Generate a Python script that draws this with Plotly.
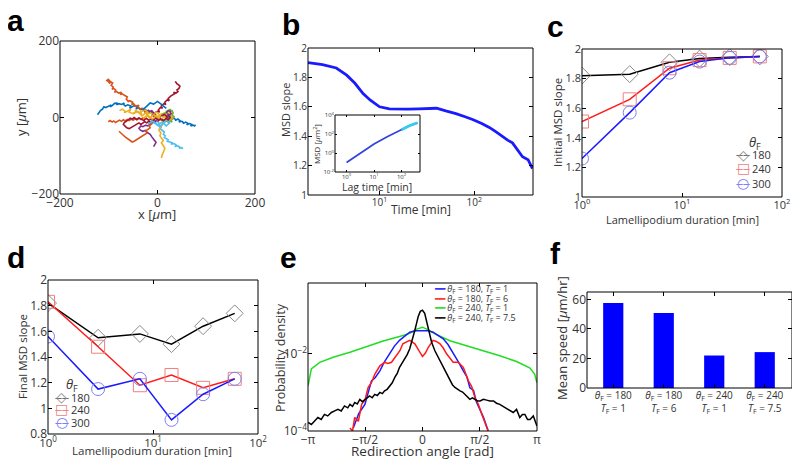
import plotly.graph_objects as go

FONT = "Open Sans"
TXT = "#333333"

# ---- panel a: cell trajectories [um] ----
traj_x = [
    [-8, -12, -10, -16, -21, -19, -26, -31, -29, -35, -40, -44, -42, -48, -53, -57, -55, -61, -66, -70,
     -68, -74, -79, -84, -82, -88, -93, -97, -95, -101, -106, -110, -113, -117, -121, -123],
    [-18, -22, -27, -25, -32, -36, -40, -38, -45, -49, -53, -51, -57, -60, -64, -62, -68, -72, -76, -74,
     -80, -84, -88, -86, -90, -93, -91, -95, -92, -97, -101, -104, -100, -97],
    [-12, -8, -4, -6, 0, 4, 2, 6, 10, 8, 13, 17, 15, 20, 24, 22, 27, 31, 35, 33,
     38, 42, 40, 44, 46, 43, 40, 38, 36],
    [15, 18, 22, 20, 26, 30, 28, 34, 38, 36, 42, 46, 44, 50, 54, 52, 58, 62, 60, 66, 70, 68, 73, 76, 78],
    [-15, -10, -5, -8, 0, 4, 2, 8, 6, 10, 14, 12, 16, 14, 18, 22, 20, 26, 30, 28, 34, 38, 36, 42, 46, 44, 50, 52],
    [-78, -72, -66, -68, -60, -55, -58, -50, -44, -46, -38, -32, -35, -26, -20, -23, -14, -8, -10, -2,
     4, 2, 8, 12, 9, 5, 3, 7, 5, 9, 12, 8, 11, 15, 13, 10, 8],
    [-20, -16, -12, -8, -10, -5, 0, -3, -6, -12, -15, -20, -24, -30, -34, -38, -35, -30, -25, -20,
     -15, -12, -8, -6, -3, -5, -8],
    [-101, -97, -93, -90, -86, -82, -78, -74, -70, -66, -62, -58, -54, -50, -46, -42, -38, -34, -30, -26],
    [-10, -13, -17, -15, -20, -24, -22, -28, -32, -36, -40, -44, -48, -52, -56, -59, -62, -65, -68, -71,
     -74, -77, -79],
    [5, 9, 13, 11, 16, 20, 18, 23, 27, 25, 30, 32, 30, 34, 31, 28, 30, 26, 22, 24, 19, 15, 17, 12, 10],
    [10, 6, 2, -3, -8, -13, -18, -23, -28, -33, -38, -43, -48, -52, -56, -60, -64, -68, -70, -67,
     -63, -58, -54, -50, -46, -42, -38, -34, -30, -26, -22, -18, -14, -10, -6],
    [-50, -40, -32, -24, -16, -8, 0, 8, 16, 24, 30, 22, 14, 6, -2, -10, -20, -30],
    [-20, -10, 0, 10, 18, 25, 20, 12, 4, -4],
    [-30, -22, -15, -8, 0, 6, 12, 18],
    [0, 6, 12, 18, 22, 26, 24, 20, 14, 8],
    [20, 24, 28, 26, 22, 18],
]
traj_y = [
    [8, 12, 16, 14, 10, 17, 20, 18, 24, 21, 26, 22, 28, 31, 27, 24, 30, 33, 30, 35,
     38, 34, 36, 33, 38, 37, 31, 28, 33, 30, 26, 28, 22, 18, 12, 7],
    [12, 16, 14, 20, 24, 22, 28, 32, 30, 36, 34, 40, 44, 42, 48, 54, 58, 62, 60, 66,
     64, 68, 66, 72, 76, 74, 80, 84, 90, 94, 100, 97, 93, 88],
    [4, 8, 6, 12, 16, 14, 20, 26, 24, 30, 36, 34, 40, 46, 44, 50, 56, 58, 62, 66,
     64, 68, 72, 76, 82, 86, 88, 92, 94],
    [6, 2, 4, 0, -2, 2, -4, -2, -6, -8, -4, -8, -12, -10, -14, -16, -12, -15, -19, -16, -18, -22, -20, -22, -19],
    [-5, -9, -6, -12, -10, -16, -20, -24, -30, -34, -38, -44, -48, -52, -56, -58, -62, -64, -66, -70,
     -68, -72, -76, -74, -78, -80, -79, -82],
    [18, 22, 16, 12, 18, 22, 14, 10, 16, 20, 12, 8, 16, 20, 14, 8, 12, 4, 10, 14,
     8, 0, -6, -12, -20, -26, -34, -40, -48, -54, -60, -66, -72, -80, -88, -96, -106],
    [20, 16, 18, 12, 6, 2, -4, -8, -14, -12, -18, -22, -20, -24, -22, -28, -33, -36, -34, -40,
     -44, -50, -55, -60, -65, -70, -76],
    [-11, -8, -12, -9, -13, -10, -7, -10, -6, -9, -5, -8, -4, -7, -3, -6, -2, -5, -1, -3],
    [-15, -19, -22, -27, -31, -35, -41, -46, -50, -54, -57, -60, -62, -64, -61, -58, -55, -52, -49, -46,
     -43, -40, -36],
    [2, 6, 4, 10, 12, 8, 16, 20, 22, 16, 18, 12, 6, 2, -4, -8, -12, -10, -6, -14, -10, -6, -12, -8, -4],
    [-6, -2, -5, -1, -6, -3, -7, -2, -8, -4, -1, -5, 0, -4, -2, -6, -9, -13, -18, -23,
     -27, -29, -26, -23, -20, -17, -14, -18, -15, -11, -14, -10, -13, -9, -6],
    [10, 16, 4, 12, -2, 8, 0, 10, 4, 12, -2, -8, 2, -6, 6, -4, 6, -2],
    [-18, -10, -20, -12, -22, -14, -4, -16, -24, -14],
    [20, 30, 38, 35, 42, 36, 30, 24],
    [-10, -4, -8, -2, -6, 0, 6, 2, 8, 4],
    [10, 6, 10, 16, 18, 12],
]
traj_colors = ["#0072BD", "#D95319", "#A2142F", "#0072BD", "#4DBEEE", "#EDB120", "#7E2F8E",
               "#D95319", "#D95319", "#77AC30", "#A2142F", "#EDB120", "#4DBEEE", "#0072BD",
               "#A2142F", "#7E2F8E"]

# ---- panel b: MSD slope vs time ----
time_b = [1.76, 2.5, 3.5, 4.5, 5.5, 6.7, 8.0, 10, 12.7, 16, 20, 26, 32, 40, 50, 64, 80, 96,
          120, 144, 170, 199, 225, 253, 290, 323, 370, 411]
slope_b = [1.90, 1.887, 1.864, 1.815, 1.76, 1.69, 1.645, 1.60, 1.586, 1.584, 1.584, 1.586, 1.588,
           1.59, 1.572, 1.554, 1.532, 1.514, 1.486, 1.46, 1.43, 1.396, 1.373, 1.355, 1.305, 1.26,
           1.24, 1.18]
lag_inset = [1, 3, 10, 30, 100, 200, 380]
msd_inset = [0.1, 0.85, 9, 52, 280, 780, 1500]

# ---- panels c, d: slopes vs lamellipodium duration ----
duration = [1, 3, 7.5, 15, 30, 60]
init_180 = [1.82, 1.83, 1.91, 1.935, 1.945, 1.95]
init_240 = [1.51, 1.66, 1.87, 1.925, 1.94, 1.95]
init_300 = [1.26, 1.57, 1.84, 1.915, 1.94, 1.95]
final_180 = [1.82, 1.55, 1.58, 1.50, 1.64, 1.74]
final_240 = [1.83, 1.48, 1.18, 1.26, 1.16, 1.23]
final_300 = [1.56, 1.15, 1.23, 0.91, 1.11, 1.23]

# ---- panel e: redirection angle distributions (log10 density) ----
ang_blue = [-1.90, -1.75, -1.58, -1.48, -1.40, -1.30, -1.17, -1.04, -0.90, -0.77, -0.63, -0.49, -0.35,
            -0.18, 0, 0.15, 0.29, 0.43, 0.57, 0.70, 0.84, 0.98, 1.12, 1.22, 1.30, 1.40, 1.48, 1.58,
            1.67, 1.80]
log_blue = [-3.92, -3.55, -3.31, -3.0, -2.70, -2.62, -2.44, -2.20, -2.0, -1.80, -1.65, -1.55, -1.44,
            -1.40, -1.39, -1.40, -1.44, -1.52, -1.61, -1.76, -1.97, -2.20, -2.44, -2.60, -2.88,
            -2.95, -3.25, -3.45, -3.64, -3.99]
ang_red = [-1.99, -1.92, -1.86, -1.76, -1.67, -1.58, -1.49, -1.40, -1.31, -1.17, -1.04, -0.95, -0.85,
           -0.71, -0.62, -0.54, -0.45, -0.35, -0.21, -0.10, 0, 0.08, 0.16, 0.29, 0.38, 0.48, 0.57,
           0.66, 0.75, 0.84, 0.98, 1.12, 1.26, 1.35, 1.44, 1.53, 1.63, 1.72, 1.80]
log_red = [-3.92, -4.0, -3.65, -3.75, -3.31, -3.20, -2.87, -2.75, -2.53, -2.31, -2.22, -2.25, -2.22,
           -2.05, -1.92, -1.74, -1.70, -1.65, -1.74, -1.90, -2.07, -1.98, -1.83, -1.65, -1.68, -1.74,
           -1.85, -2.0, -2.12, -2.22, -2.22, -2.35, -2.70, -2.85, -3.14, -3.30, -3.57, -3.83, -4.0]
ang_green = [-3.14, -3.05, -2.82, -2.45, -1.99, -1.53, -1.08, -0.63, -0.35, -0.16, 0, 0.16, 0.38,
             0.75, 1.21, 1.67, 2.12, 2.58, 2.95, 3.08, 3.14]
log_green = [-2.83, -2.39, -2.22, -2.09, -1.96, -1.81, -1.67, -1.55, -1.47, -1.36, -1.31, -1.38,
             -1.50, -1.66, -1.79, -1.92, -2.05, -2.20, -2.37, -2.53, -2.75]
ang_black = [-3.14, -3.05, -2.96, -2.87, -2.78, -2.69, -2.60, -2.50, -2.41, -2.32, -2.23, -2.14, -2.05,
             -1.99, -1.92, -1.86, -1.79, -1.72, -1.65, -1.58, -1.51, -1.45, -1.38, -1.31, -1.24, -1.17,
             -1.10, -1.04, -0.97, -0.90, -0.83, -0.76, -0.69, -0.63, -0.56, -0.49, -0.42, -0.35,
             -0.28, -0.21, -0.16, -0.12, -0.06, 0, 0.06, 0.11, 0.16, 0.20, 0.25, 0.34, 0.41, 0.48,
             0.55, 0.62, 0.69, 0.75, 0.82, 0.89, 0.96, 1.03, 1.10, 1.16, 1.23, 1.30, 1.37, 1.44,
             1.51, 1.58, 1.67, 1.76, 1.85, 1.95, 2.03, 2.12, 2.21, 2.31, 2.40, 2.49, 2.58, 2.67,
             2.74, 2.81, 2.88, 2.95, 3.04, 3.10, 3.14]
log_black = [-3.78, -3.83, -3.74, -3.65, -3.70, -3.57, -3.61, -3.52, -3.48, -3.44, -3.48, -3.35,
             -3.40, -3.31, -3.36, -3.26, -3.30, -3.18, -3.24, -3.18, -3.12, -3.09, -3.14, -3.05,
             -3.08, -3.0, -3.03, -2.96, -2.92, -2.83, -2.75, -2.61, -2.50, -2.35, -2.25, -2.14,
             -2.02, -1.87, -1.65, -1.39, -1.20, -1.04, -0.90, -0.87, -0.95, -1.15, -1.35, -1.52,
             -1.70, -1.92, -2.05, -2.18, -2.30, -2.44, -2.58, -2.70, -2.80, -2.87, -2.92, -2.96,
             -2.99, -3.05, -3.10, -3.18, -3.14, -3.18, -3.22, -3.22, -3.18, -3.20, -3.22, -3.22,
             -3.28, -3.31, -3.36, -3.40, -3.46, -3.52, -3.44, -3.65, -3.57, -3.57, -3.70, -3.70,
             -3.61, -3.78, -3.87]

# ---- panel f: mean speed ----
speed_labels = ["<i>θ</i><sub>F</sub> = 180<br><i>T</i><sub>F</sub> = 1",
                "<i>θ</i><sub>F</sub> = 180<br><i>T</i><sub>F</sub> = 6",
                "<i>θ</i><sub>F</sub> = 240<br><i>T</i><sub>F</sub> = 1",
                "<i>θ</i><sub>F</sub> = 240<br><i>T</i><sub>F</sub> = 7.5"]
speed_vals = [57.5, 50.7, 22.0, 24.3]

# page body has an 8px margin, so the figure is 792x462 and window pixels are shifted by 8
W, H, OFF = 792, 462, 8


def fx(x):
    return (x - OFF) / W


def fy(y):
    return 1 - (y - OFF) / H


def px(x0, x1):
    return [fx(x0), fx(x1)]


def py(top, bottom):
    return [fy(bottom), fy(top)]


def ax(size=11, **kw):
    # box is drawn with a frame shape; axes only carry ticks (mirrored like MATLAB)
    d = dict(showline=False, mirror="ticks", ticks="inside",
             ticklen=4, tickcolor="black", showgrid=False, zeroline=False, automargin=False,
             tickfont=dict(size=size, color=TXT))
    d.update(kw)
    return d


fig = go.Figure()

# a
for xs, ys, c in zip(traj_x, traj_y, traj_colors):
    fig.add_trace(go.Scatter(x=xs, y=ys, mode="lines", line=dict(color=c, width=1.6),
                             xaxis="x", yaxis="y", showlegend=False))

# b
fig.add_trace(go.Scatter(x=time_b, y=slope_b, mode="lines", line=dict(color="#1a1aff", width=2.8),
                         xaxis="x2", yaxis="y2", showlegend=False))
fig.add_trace(go.Scatter(x=lag_inset, y=msd_inset, mode="lines", line=dict(color="#3344dd", width=1.8),
                         xaxis="x3", yaxis="y3", showlegend=False))
fig.add_trace(go.Scatter(x=lag_inset[4:], y=msd_inset[4:], mode="lines",
                         line=dict(color="#33ccee", width=2.6),
                         xaxis="x3", yaxis="y3", showlegend=False))

# c and d
series = [("x4", "y4", [init_180, init_240, init_300]), ("x5", "y5", [final_180, final_240, final_300])]
styles = [("black", "#8a8a8a", "diamond-open"), ("#ff1a1a", "#f08080", "square-open"),
          ("#1a1aff", "#8080f0", "circle-open")]
for xa, ya, sets in series:
    for vals, (lc, mc, sym) in zip(sets, styles):
        fig.add_trace(go.Scatter(x=duration, y=vals, mode="lines+markers",
                                 line=dict(color=lc, width=1.5),
                                 marker=dict(symbol=sym, size=13, color=mc, line=dict(width=1, color=mc)),
                                 xaxis=xa, yaxis=ya, showlegend=False))

# e
for a, l, c in [(ang_green, log_green, "#22dd22"), (ang_blue, log_blue, "#1a1aff"),
                (ang_red, log_red, "#ff1a1a"), (ang_black, log_black, "black")]:
    fig.add_trace(go.Scatter(x=a, y=[10 ** v for v in l], mode="lines", line=dict(color=c, width=1.5),
                             xaxis="x6", yaxis="y6", showlegend=False))

# f
fig.add_trace(go.Bar(x=[1, 2, 3, 4], y=speed_vals, width=0.4, marker_color="#0000ff",
                     marker_line_width=0, xaxis="x7", yaxis="y7", showlegend=False))

pi = 3.141592653589793
mu = "<i>μ</i>"
sup = ["10<sup>0</sup>", "10<sup>1</sup>", "10<sup>2</sup>"]
fig.update_layout(
    width=W, height=H, margin=dict(l=0, r=0, t=0, b=0, autoexpand=False),
    paper_bgcolor="white", plot_bgcolor="white",
    font=dict(family=FONT, color=TXT),
    xaxis=ax(12, domain=px(60, 255), anchor="y", range=[-200, 200], tickvals=[-200, 0, 200]),
    yaxis=ax(12, domain=py(41, 194), anchor="x", range=[-200, 200], tickvals=[-200, 0, 200]),
    xaxis2=ax(10, domain=px(308, 533), anchor="y2", type="log", range=[0.245, 2.62],
              tickvals=[10, 100], ticktext=sup[1:]),
    yaxis2=ax(10, domain=py(48, 195), anchor="x2", range=[1, 2], dtick=0.2),
    xaxis3=ax(6, domain=px(335, 420), anchor="y3", type="log", range=[-0.42, 2.67], ticklen=2,
              tickvals=[1, 10, 100], ticktext=sup),
    yaxis3=ax(6, domain=py(115, 172), anchor="x3", type="log", range=[-2, 4], ticklen=2,
              tickvals=[0.01, 1, 100, 10000],
              ticktext=["10<sup>-2</sup>", "10<sup>0</sup>", "10<sup>2</sup>", "10<sup>4</sup>"]),
    xaxis4=ax(11, domain=px(582, 782), anchor="y4", type="log", range=[0, 2],
              tickvals=[1, 10, 100], ticktext=sup),
    yaxis4=ax(11, domain=py(49, 197), anchor="x4", range=[1, 2], dtick=0.2),
    xaxis5=ax(11.5, domain=px(48, 258), anchor="y5", type="log", range=[0, 2],
              tickvals=[1, 10, 100], ticktext=sup),
    yaxis5=ax(12, domain=py(280, 434), anchor="x5", range=[0.8, 2], dtick=0.2),
    xaxis6=ax(12, domain=px(308, 537), anchor="y6", range=[-pi, pi],
              tickvals=[-pi, -pi / 2, 0, pi / 2, pi], ticktext=["−π", "−π/2", "0", "π/2", "π"]),
    yaxis6=ax(12, domain=py(283, 431), anchor="x6", type="log", range=[-4, -0.165],
              tickvals=[1e-4, 1e-2], ticktext=["10<sup>−4</sup>", "10<sup>−2</sup>"]),
    xaxis7=ax(10, domain=px(587, 792), anchor="y7", range=[0.48, 4.54], tickvals=[1, 2, 3, 4],
              ticktext=speed_labels),
    yaxis7=ax(12, domain=py(292, 388), anchor="x7", range=[0, 65], tickvals=[0, 20, 40, 60]),
)

# axes boxes
shapes = []
for xid, yid in [("x", "y"), ("x2", "y2"), ("x3", "y3"), ("x4", "y4"), ("x5", "y5"),
                 ("x6", "y6"), ("x7", "y7")]:
    shapes.append(dict(type="rect", xref=xid + " domain", yref=yid + " domain", x0=0, x1=1, y0=0, y1=1,
                       line=dict(color="black", width=1), fillcolor="rgba(0,0,0,0)", layer="above"))
fig.update_layout(shapes=shapes)

ann = []


def label(text, x, y, size, angle=0):
    ann.append(dict(text=text, x=fx(x), y=fy(y), xref="paper", yref="paper",
                    xanchor="center", yanchor="middle", showarrow=False, textangle=angle,
                    font=dict(size=size, color=TXT)))


# axis titles
label("x [" + mu + "m]", 157, 214, 13)
label("y [" + mu + "m]", 21, 117, 13, -90)
label("Time [min]", 421, 210, 12)
label("MSD slope", 286, 110, 11, -90)
label("Lag time [min]", 377, 187, 10.5)
label("MSD [" + mu + "m<sup>2</sup>]", 316, 144, 8, -90)
label("Lamellipodium duration [min]", 682, 219, 11)
label("Initial MSD slope", 557, 123, 11.5, -90)
label("Lamellipodium duration [min]", 152, 450, 11.5)
label("Final MSD slope", 22, 357, 11.5, -90)
label("Redirection angle [rad]", 422, 451, 13.5)
label("Probability density", 280, 358, 12.5, -90)
label("Mean speed [" + mu + "m/hr]", 562, 338, 13, -90)

# panel letters
for letter, x, y in [("a", 5, 21), ("b", 280, 24), ("c", 545, 27), ("d", 5, 257), ("e", 278, 257),
                     ("f", 548, 254)]:
    ann.append(dict(text="<b>" + letter + "</b>", x=fx(x), y=fy(y), xref="paper", yref="paper",
                    xanchor="left", yanchor="middle", showarrow=False,
                    font=dict(family="Liberation Sans", size=30, color="black")))


def legend_entry(xm, ym, lc, mc, glyph, text, size=11):
    ann.append(dict(text="——", x=fx(xm), y=fy(ym), xref="paper", yref="paper",
                    xanchor="center", yanchor="middle", showarrow=False, font=dict(size=7, color=lc)))
    ann.append(dict(text=glyph, x=fx(xm), y=fy(ym), xref="paper", yref="paper",
                    xanchor="center", yanchor="middle", showarrow=False,
                    font=dict(family="DejaVu Sans", size=14, color=mc)))
    ann.append(dict(text=text, x=fx(xm + 7), y=fy(ym), xref="paper", yref="paper",
                    xanchor="left", yanchor="middle", showarrow=False, font=dict(size=size, color=TXT)))


glyphs = ["◇", "□", "○"]
labels = ["180", "240", "300"]
# legend c
label("<i>θ</i><sub>F</sub>", 755, 143, 13)
for st, g, lb, yy in zip(styles, glyphs, labels, [155, 168, 183]):
    legend_entry(743, yy, st[0], st[1], g, lb)
# legend d
label("<i>θ</i><sub>F</sub>", 72, 385, 13)
for st, g, lb, yy in zip(styles, glyphs, labels, [397, 409, 422]):
    legend_entry(62, yy, st[0], st[1], g, lb)
# legend e
e_labels = ["<i>θ</i><sub>F</sub> = 180, <i>T</i><sub>F</sub> = 1",
            "<i>θ</i><sub>F</sub> = 180, <i>T</i><sub>F</sub> = 6",
            "<i>θ</i><sub>F</sub> = 240, <i>T</i><sub>F</sub> = 1",
            "<i>θ</i><sub>F</sub> = 240, <i>T</i><sub>F</sub> = 7.5"]
for lb, c, yy in zip(e_labels, ["#1a1aff", "#ff1a1a", "#22dd22", "black"], [289, 299, 308, 318]):
    ann.append(dict(text="<span style='color:%s'>━━</span> %s" % (c, lb), x=fx(432), y=fy(yy),
                    xref="paper", yref="paper", xanchor="left", yanchor="middle", showarrow=False,
                    font=dict(size=9, color=TXT)))
fig.update_layout(annotations=ann)

fig.write_html("out.html")
